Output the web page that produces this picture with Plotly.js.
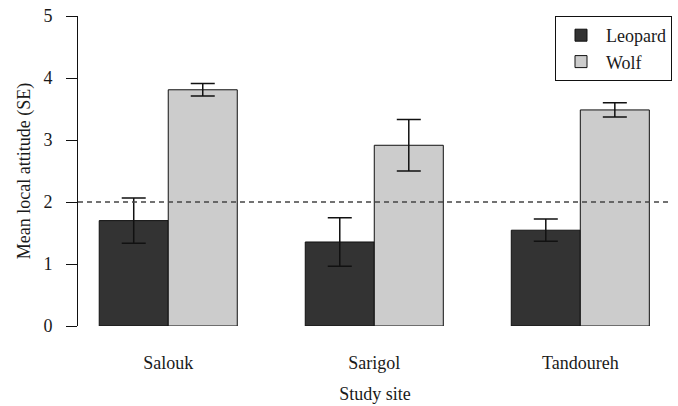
<!DOCTYPE html>
<html>
<head>
<meta charset="utf-8">
<script src="https://cdn.plot.ly/plotly-3.0.1.min.js"></script>
<style>html,body{margin:0;padding:0;background:#fff;}#chart{width:678px;height:406px;}</style>
</head>
<body>
<div id="chart"></div>
<script>
const sites = ["Salouk", "Sarigol", "Tandoureh"];
const leopardMean = [1.70, 1.355, 1.545];
const leopardSE = [0.365, 0.39, 0.18];
const wolfMean = [3.81, 2.915, 3.485];
const wolfSE = [0.10, 0.415, 0.115];
const yTicks = [0, 1, 2, 3, 4, 5];
const referenceLevel = 2;

const font = {family: "Liberation Serif, Times New Roman, serif", size: 18, color: "#1a1a1a"};

const traces = [
  {
    type: "bar", name: "Leopard", x: sites, y: leopardMean,
    marker: {color: "#333333", line: {color: "#111111", width: 1}},
    error_y: {type: "data", array: leopardSE, visible: true, color: "#111111", thickness: 1.5, width: 12}
  },
  {
    type: "bar", name: "Wolf", x: sites, y: wolfMean,
    marker: {color: "#cccccc", line: {color: "#111111", width: 1}},
    error_y: {type: "data", array: wolfSE, visible: true, color: "#111111", thickness: 1.5, width: 12}
  }
];

const layout = {
  width: 678, height: 406,
  margin: {l: 78, r: 6, t: 15.5, b: 80.3, pad: 0},
  paper_bgcolor: "#ffffff", plot_bgcolor: "#ffffff",
  font: font,
  barmode: "group", bargap: 0.33, bargroupgap: 0,
  showlegend: true,
  legend: {
    x: 1, xanchor: "right", y: 1, yanchor: "top",
    bordercolor: "#111111", borderwidth: 1, bgcolor: "#ffffff",
    font: font, traceorder: "normal", itemwidth: 40
  },
  xaxis: {
    type: "category", range: [-0.438, 2.445],
    showline: false, showgrid: false, zeroline: false, ticks: "",
    ticklabelstandoff: 24,
    tickfont: font,
    title: {text: "Study site", font: font, standoff: 15}
  },
  yaxis: {
    range: [0, 5], tickvals: yTicks, ticktext: yTicks.map(String),
    showline: true, linecolor: "#111111", linewidth: 1,
    ticks: "outside", ticklen: 11, tickwidth: 1, tickcolor: "#111111",
    ticklabelstandoff: 10,
    showgrid: false, zeroline: false,
    tickfont: font,
    title: {text: "Mean local attitude (SE)", font: font, standoff: 8}
  },
  shapes: [{
    type: "line", xref: "paper", x0: 0, x1: 1, yref: "y", y0: referenceLevel, y1: referenceLevel,
    line: {color: "#444444", width: 1.5, dash: "5px,4px"}, layer: "above"
  }]
};

Plotly.newPlot("chart", traces, layout, {displayModeBar: false, staticPlot: true});
</script>
</body>
</html>
